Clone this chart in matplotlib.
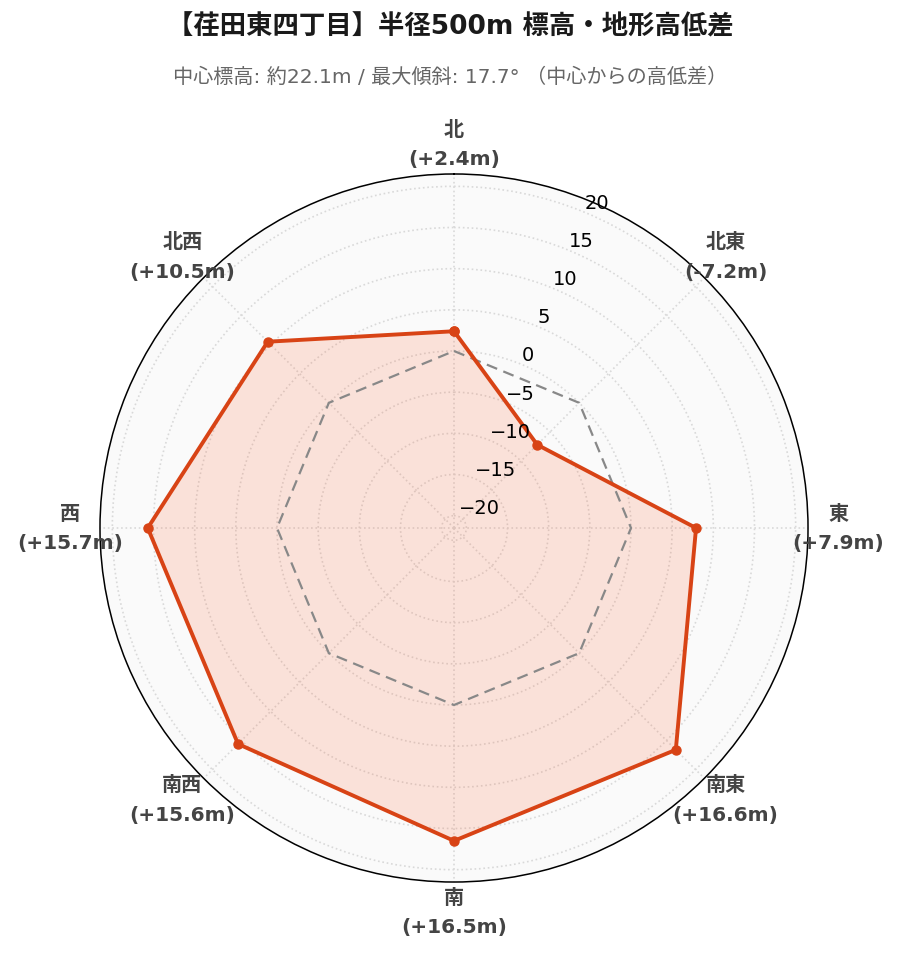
import numpy as np
import matplotlib.pyplot as plt

plt.rcParams['font.family'] = ['DejaVu Sans', 'Noto Sans CJK JP']

# データ
directions = ['北', '北東', '東', '南東', '南', '南西', '西', '北西']
diffs = [2.4, -7.2, 7.9, 16.6, 16.5, 15.6, 15.7, 10.5]
r_ticks = [-20, -15, -10, -5, 0, 5, 10, 15, 20]
r_range = (-21.5, 21.5)

title = '【荏田東四丁目】半径500m 標高・地形高低差'
subtitle = '中心標高: 約22.1m / 最大傾斜: 17.7° （中心からの高低差）'

line_color = '#d84315'
fill_color = '#ff5722'

theta = np.deg2rad(np.arange(len(directions)) * 45)
theta_c = np.append(theta, theta[0])
vals_c = np.append(diffs, diffs[0])

fig = plt.figure(figsize=(9, 9.62), dpi=100)
ax = fig.add_axes([0.1111, 0.0821, 0.7867, 0.736], polar=True)
ax.set_theta_zero_location('N')
ax.set_theta_direction(-1)
ax.set_facecolor('#fafafa')
ax.set_ylim(*r_range)

ax.set_xticks(theta)
ax.set_xticklabels([])
ax.set_yticks(r_ticks)
ax.set_yticklabels([])
ax.tick_params(length=0)
ax.grid(True, color='#d9d9d9', linestyle=':', linewidth=1.2)
ax.spines['polar'].set_color('black')
ax.spines['polar'].set_linewidth(1.1)

# ゼロ基準線
ax.plot(theta_c, np.zeros(len(theta_c)), color='#888888', lw=1.6,
        linestyle=(0, (5, 3)), zorder=3)

# 高低差
ax.fill(theta_c, vals_c, color=fill_color, alpha=0.15, lw=0, zorder=2)
ax.plot(theta_c, vals_c, color=line_color, lw=2.8, marker='o', ms=6.5, zorder=4)

# 半径目盛り
for t in r_ticks:
    ax.text(np.deg2rad(22.5), t, str(t).replace('-', '\u2212'),
            ha='left', va='bottom', fontsize=14, color='black', zorder=5)

# 方位ラベル
r_lab = r_range[0] + 1.085 * (r_range[1] - r_range[0])
for th, d, v in zip(theta, directions, diffs):
    ax.text(th, r_lab, f'{d}\n({v:+.1f}m)', ha='center', va='center',
            multialignment='center', fontsize=14.5, fontweight='bold',
            color='#444444', linespacing=1.7)

fig.text(0.5, 0.971, title, ha='center', va='center', fontsize=19,
         fontweight='bold', color='#1a1a1a')
fig.text(0.5, 0.92, subtitle, ha='center', va='center', fontsize=14.5,
         color='#666666')

fig.savefig('out.png', dpi=100)
